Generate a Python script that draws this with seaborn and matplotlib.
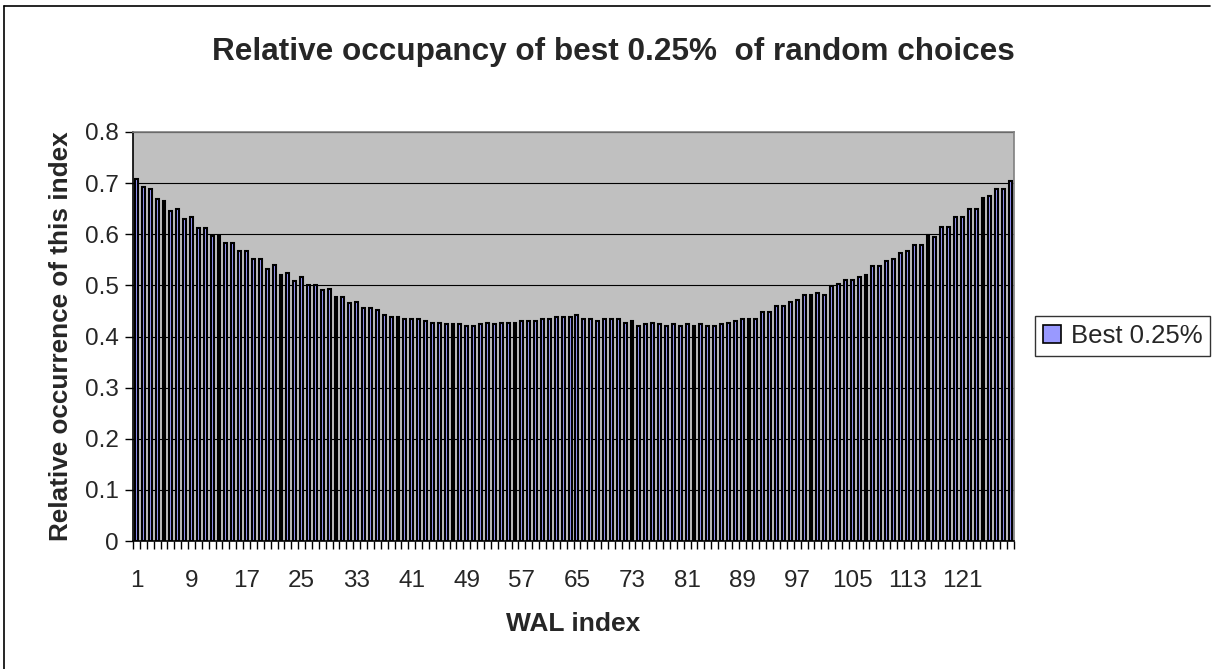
import pandas as pd
import seaborn as sns
import matplotlib.pyplot as plt
from matplotlib.patches import Patch
from matplotlib.lines import Line2D

sns.set_style("white")
plt.rcParams['font.family'] = ['Liberation Sans', 'DejaVu Sans']

# WAL index 1..128 and relative occurrence
wal_index = list(range(1, 129))
occurrence = [
    0.709, 0.693, 0.689, 0.669, 0.665, 0.645, 0.649, 0.629, 0.633, 0.613, 0.613, 0.597, 0.597, 0.582, 0.582, 0.567,
    0.567, 0.552, 0.552, 0.532, 0.539, 0.520, 0.524, 0.509, 0.517, 0.501, 0.501, 0.490, 0.493, 0.478, 0.478, 0.466,
    0.467, 0.455, 0.455, 0.451, 0.443, 0.439, 0.439, 0.435, 0.435, 0.435, 0.431, 0.427, 0.427, 0.424, 0.424, 0.424,
    0.420, 0.420, 0.424, 0.427, 0.424, 0.427, 0.427, 0.427, 0.431, 0.431, 0.431, 0.435, 0.435, 0.439, 0.439, 0.439,
    0.443, 0.435, 0.435, 0.431, 0.435, 0.435, 0.435, 0.427, 0.431, 0.420, 0.424, 0.427, 0.424, 0.420, 0.424, 0.420,
    0.424, 0.420, 0.424, 0.420, 0.420, 0.424, 0.427, 0.431, 0.435, 0.435, 0.435, 0.447, 0.447, 0.459, 0.459, 0.467,
    0.471, 0.482, 0.482, 0.486, 0.482, 0.498, 0.502, 0.510, 0.510, 0.517, 0.521, 0.537, 0.537, 0.548, 0.552, 0.563,
    0.567, 0.579, 0.579, 0.598, 0.594, 0.614, 0.614, 0.634, 0.634, 0.650, 0.650, 0.670, 0.674, 0.689, 0.689, 0.705,
]
y_ticks = [0, 0.1, 0.2, 0.3, 0.4, 0.5, 0.6, 0.7, 0.8]
y_tick_labels = ['0', '0.1', '0.2', '0.3', '0.4', '0.5', '0.6', '0.7', '0.8']
series_name = 'Best 0.25%'

df = pd.DataFrame({'wal': wal_index, 'occ': occurrence})

W, H = 1215, 669
fig = plt.figure(figsize=(W / 100, H / 100), dpi=100)
ax = fig.add_axes([133 / W, 1 - 541 / H, (1014 - 133) / W, (541 - 132) / H])

bar_color = '#9999FF'
# narrow bars with heavy black outlines, like the original spreadsheet chart
sns.barplot(x='wal', y='occ', data=df, color=bar_color, width=0.42,
            edgecolor='black', linewidth=1.5, saturation=1, ax=ax)

ax.set_facecolor('#C0C0C0')
ax.set_axisbelow(True)
ax.set_ylim(0, 0.8)
ax.set_xlim(-0.5, len(wal_index) - 0.5)
ax.set_yticks(y_ticks)
ax.set_yticklabels(y_tick_labels)
ax.yaxis.grid(True, color='black', linewidth=0.8)
ax.xaxis.grid(False)

# labels every 8th index, tick marks between every category
pos = [i for i in range(len(wal_index)) if i % 8 == 0]
ax.set_xticks(pos)
ax.set_xticklabels([str(wal_index[i]) for i in pos])
ax.set_xticks([i - 0.5 for i in range(len(wal_index) + 1)], minor=True)
ax.tick_params(axis='x', which='major', length=0, pad=21, labelsize=17.5)
ax.tick_params(axis='x', which='minor', length=6, width=1, color='black', direction='out', bottom=True)
ax.tick_params(axis='y', length=6, width=1, color='black', direction='out', left=True, labelsize=17.5, pad=4)

for s in ['top', 'right']:
    ax.spines[s].set_color('#808080')
    ax.spines[s].set_linewidth(1.2)
for s in ['left', 'bottom']:
    ax.spines[s].set_color('black')
    ax.spines[s].set_linewidth(1.2)

ax.set_xlabel('WAL index', fontsize=19, fontweight='bold', labelpad=14)
ax.set_ylabel('Relative occurrence of this index', fontsize=18.8, fontweight='bold', labelpad=9)

fig.text(613 / W, 1 - 52 / H, 'Relative occupancy of best 0.25%  of random choices',
         ha='center', va='center', fontsize=22.7, fontweight='bold')

handle = Patch(facecolor=bar_color, edgecolor='black', linewidth=1.2)
leg = fig.legend([handle], [series_name], loc='center left',
                 bbox_to_anchor=(1035 / W, 1 - 336 / H), fontsize=18.5,
                 frameon=True, fancybox=False, handlelength=0.7, handleheight=0.7,
                 handletextpad=0.4, borderpad=0.3, borderaxespad=0)
leg.get_frame().set_edgecolor('black')
leg.get_frame().set_linewidth(1.0)

# outer chart border
fig.add_artist(Line2D([4 / W, 4 / W], [0, 1 - 6 / H], color='black', linewidth=1.2, transform=fig.transFigure))
fig.add_artist(Line2D([4 / W, 1210 / W], [1 - 6 / H, 1 - 6 / H], color='black', linewidth=1.2, transform=fig.transFigure))

fig.savefig('out.png', dpi=100)
